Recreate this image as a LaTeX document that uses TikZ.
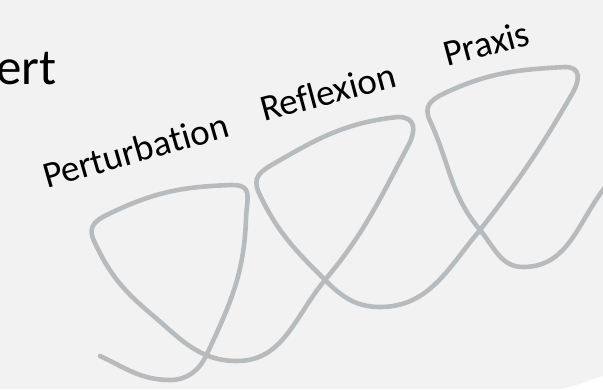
\documentclass[tikz,border=0pt]{standalone}
\usepackage{fontspec}
\setmainfont[Ligatures=NoCommon]{Carlito}
\usepackage{tikz}
\definecolor{paper}{HTML}{F2F2F2}
\definecolor{loopgray}{HTML}{B8BBBE}

\begin{document}
\begin{tikzpicture}[x=1pt, y=1pt,
  trail/.style={draw=loopgray, line width=4.6pt, line cap=round, line join=round},
  lbl/.style={anchor=base west, inner sep=0pt, font=\fontsize{37}{40}\selectfont, rotate=15}]
  \useasboundingbox (0,0) rectangle (603,389);
  \fill[paper] (0,0) rectangle (603,389);
  \fill[white] (560,0) to[out=10,in=198] (603,13) -- (603,0) -- cycle;

  % title, cut at the left edge
  \node[anchor=base west, inner sep=0pt, font=\fontsize{51}{55}\selectfont] (ttl) at (-4,304) {ert};

  % the three loops
  \begin{scope}
    \clip (0,0) rectangle (603,389);
    \draw[trail] (100,33) to[out=-25,in=180] (170,9)
      to[out=0,in=245] (207,35)
      to[out=65,in=268] (246,170)
      to[out=88,in=0,looseness=1.5] (232,204)
      to[out=182,in=25] (115,178)
      to[out=205,in=115,looseness=1.3] (94,148)
      to[out=-65,in=140] (150,76)
      to[out=-40,in=180] (237,28)
      % second loop
      to[out=0,in=230] (325,109)
      to[out=50,in=242] (408,243)
      to[out=62,in=0,looseness=1.5] (398,272)
      to[out=186,in=30] (275,226)
      to[out=210,in=115,looseness=1.3] (259,196)
      to[out=-65,in=135] (325,109)
      to[out=-45,in=180] (380,82)
      % third loop
      to[out=0,in=230] (480,159)
      to[out=52,in=240] (572,295)
      to[out=60,in=0,looseness=1.5] (565,322)
      to[out=183,in=25] (445,296)
      to[out=205,in=115,looseness=1.3] (430,268)
      to[out=-65,in=130] (480,159)
      to[out=-50,in=180] (523,122)
      to[out=0,in=225] (615,213);
  \end{scope}

  \node[lbl, rotate=1] (perturb) at (47,200) {Perturbation};
  \node[lbl] (reflex) at (264,267) {Reflexion};
  \node[lbl] (praxis) at (447,322) {Praxis};
\end{tikzpicture}
\end{document}
